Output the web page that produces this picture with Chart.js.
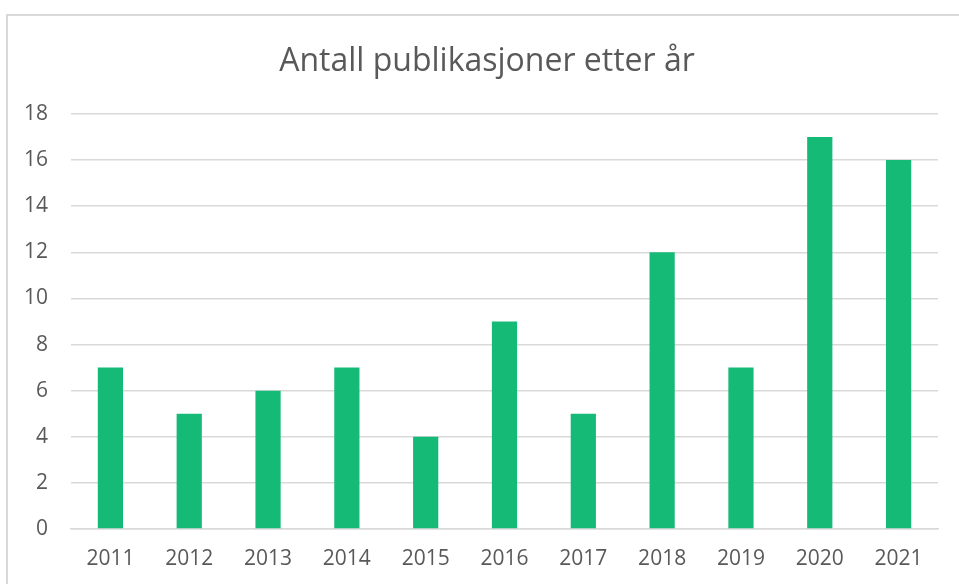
<!DOCTYPE html>
<html lang="no">
<head>
    <meta charset="UTF-8">
    <title>Antall publikasjoner etter år</title>
    <script src="https://cdn.jsdelivr.net/npm/chart.js"></script>
    <style>
        html, body { margin: 0; padding: 0; background: #fff; overflow: hidden; }
        .frame {
            position: absolute;
            left: 6px; top: 14px;
            width: 962px; height: 580px;
            border: 2px solid #d9d9d9;
        }
        .chart-box { position: absolute; left: 0; top: 0; width: 958px; height: 568px; }
    </style>
</head>
<body>
    <div class="frame">
        <div class="chart-box"><canvas id="pubChart"></canvas></div>
    </div>
    <script>
        const years = ['2011', '2012', '2013', '2014', '2015', '2016', '2017', '2018', '2019', '2020', '2021'];
        const publications = [7, 5, 6, 7, 4, 9, 5, 12, 7, 17, 16];
        const yTicks = [0, 2, 4, 6, 8, 10, 12, 14, 16, 18];

        const textColor = '#595959';
        const gridColor = '#d9d9d9';

        new Chart(document.getElementById('pubChart'), {
            type: 'bar',
            data: {
                labels: years,
                datasets: [{
                    label: 'Publikasjoner',
                    data: publications,
                    backgroundColor: '#16BA77',
                    barPercentage: 0.32,
                    categoryPercentage: 1.0
                }]
            },
            options: {
                responsive: true,
                maintainAspectRatio: false,
                animation: false,
                layout: { padding: 0 },
                plugins: {
                    legend: { display: false },
                    tooltip: { enabled: false },
                    title: {
                        display: true,
                        text: 'Antall publikasjoner etter år',
                        color: textColor,
                        font: { family: 'Open Sans', size: 32, weight: 'normal' },
                        padding: { top: 27, bottom: 32.6 }
                    }
                },
                scales: {
                    x: {
                        grid: { display: false, drawTicks: false },
                        border: { display: true, color: gridColor, width: 1.5 },
                        ticks: {
                            color: textColor,
                            font: { family: 'Open Sans', size: 21 },
                            padding: 17
                        },
                        afterFit: s => { s.height = 55; }
                    },
                    y: {
                        min: 0,
                        max: 18,
                        afterBuildTicks: s => { s.ticks = yTicks.map(v => ({ value: v })); },
                        grid: { color: gridColor, lineWidth: 1.5, drawTicks: false },
                        border: { display: false },
                        ticks: {
                            color: textColor,
                            font: { family: 'Open Sans', size: 21 },
                            padding: 23
                        },
                        afterFit: s => { s.width = 63; }
                    },
                    // empty right axis: only reserves the gap on the right,
                    // so the full-width title stays centred on the frame
                    yRight: {
                        position: 'right',
                        grid: { display: false, drawTicks: false },
                        border: { display: false },
                        ticks: { display: false },
                        afterFit: s => { s.width = 28; }
                    }
                }
            }
        });
    </script>
</body>
</html>
